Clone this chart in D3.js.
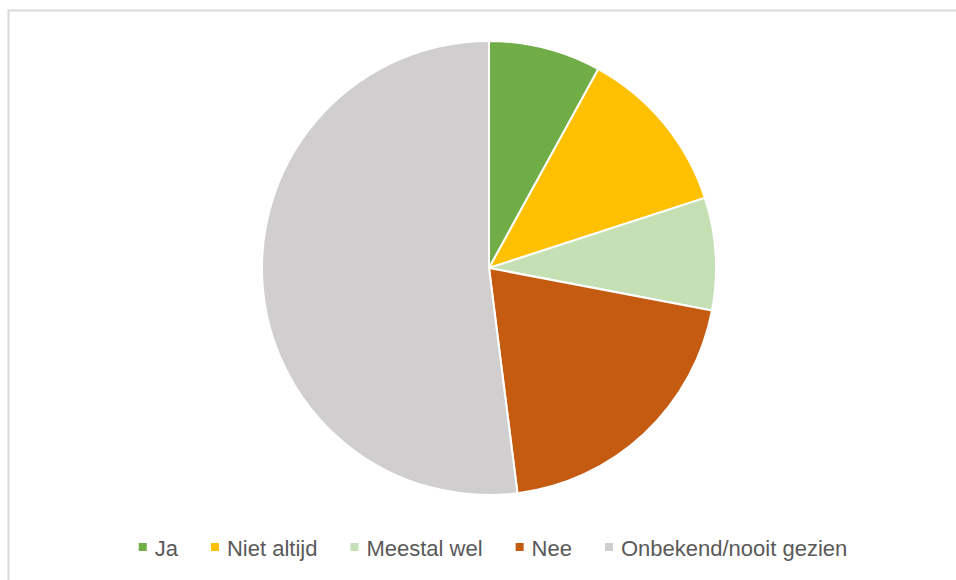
<!DOCTYPE html>
<html>
<head>
<meta charset="utf-8">
<script src="https://cdn.jsdelivr.net/npm/d3@7"></script>
<style>
  html, body { margin: 0; padding: 0; background: #ffffff; }
  svg { display: block; }
</style>
</head>
<body>
<svg id="chart" width="956" height="580"></svg>
<script>
// Answers and number of responses per answer
const categories = ["Ja", "Niet altijd", "Meestal wel", "Nee", "Onbekend/nooit gezien"];
const counts = [2, 3, 2, 5, 13];
const colors = ["#70ad47", "#ffc000", "#c5e0b4", "#c55a11", "#d0cece"];

const svg = d3.select("#chart");
const W = 956, H = 580;

// Chart area frame
svg.append("rect")
  .attr("x", 8.5).attr("y", 10.5)
  .attr("width", W + 10).attr("height", H + 10)
  .attr("fill", "#ffffff")
  .attr("stroke", "#d9d9d9")
  .attr("stroke-width", 2);

const cx = 489, cy = 268, r = 227;

const data = categories.map((c, i) => ({ name: c, value: counts[i], color: colors[i] }));

const pie = d3.pie().value(d => d.value).sort(null);
const arc = d3.arc().innerRadius(0).outerRadius(r);

svg.append("g")
  .attr("transform", `translate(${cx},${cy})`)
  .selectAll("path")
  .data(pie(data))
  .join("path")
  .attr("d", arc)
  .attr("fill", d => d.data.color)
  .attr("stroke", "#ffffff")
  .attr("stroke-width", 2)
  .attr("stroke-linejoin", "round");

// Legend along the bottom
const legend = svg.append("g")
  .attr("font-family", "'Liberation Sans', Arial, sans-serif")
  .attr("font-size", 22).attr("fill", "#595959");

const sw = 8, textOffset = 16, gapItem = 33;
const items = legend.selectAll("g.item").data(data).join("g").attr("class", "item");
items.append("rect").attr("width", sw).attr("height", sw).attr("y", -13).attr("fill", d => d.color);
items.append("text").attr("x", textOffset).attr("y", 0).text(d => d.name);

const widths = [];
items.each(function () {
  widths.push(textOffset + d3.select(this).select("text").node().getComputedTextLength());
});
const total = d3.sum(widths) + gapItem * (widths.length - 1);
let x = 493 - total / 2;
const baseY = 556;
items.each(function (d, i) {
  d3.select(this).attr("transform", `translate(${x},${baseY})`);
  x += widths[i] + gapItem;
});
</script>
</body>
</html>
